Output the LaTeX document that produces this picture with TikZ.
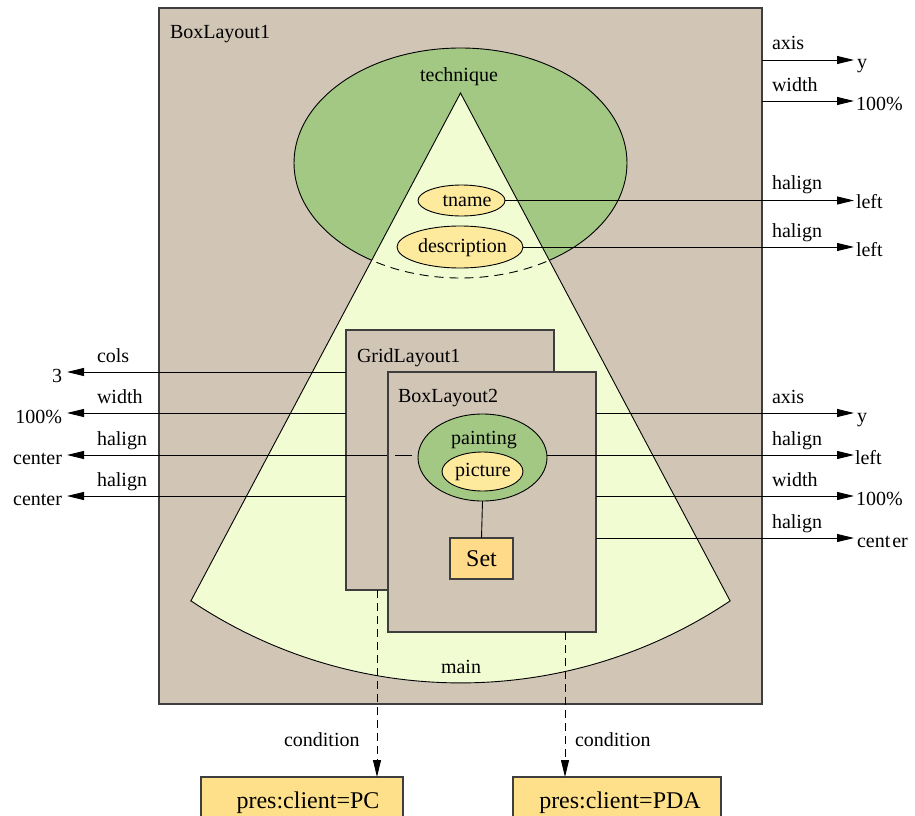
\documentclass[tikz,border=0pt]{standalone}
\usepackage{fontspec}
\setmainfont{Liberation Serif}
\usetikzlibrary{shapes.geometric,arrows.meta}
\definecolor{layoutbg}{RGB}{209,197,182}
\definecolor{partgreen}{RGB}{162,200,131}
\definecolor{conefill}{RGB}{241,252,211}
\definecolor{attrfill}{RGB}{253,234,157}
\definecolor{setfill}{RGB}{255,218,137}
\definecolor{condfill}{RGB}{255,224,138}
\definecolor{edgegray}{RGB}{62,62,62}
\begin{document}
\begin{tikzpicture}[x=1pt,y=-1pt,
  every node/.style={font=\fontsize{20}{24}\selectfont, inner sep=0pt, outer sep=0pt},
  layout/.style={rectangle, draw=edgegray, line width=1.2pt, fill=layoutbg, anchor=north west},
  part/.style={ellipse, draw=black, line width=0.9pt, fill=partgreen},
  attr/.style={ellipse, draw=black, line width=0.9pt, fill=attrfill},
  lbl/.style={anchor=base west},
  ctr/.style={anchor=base},
  lval/.style={anchor=base east},
  prop/.style={line width=0.9pt, -{Triangle[length=17pt,width=8pt]}},
  cond/.style={line width=0.9pt, dash pattern=on 8pt off 5pt, -{Triangle[length=17pt,width=8pt]}},
  condbox/.style={rectangle, draw=edgegray, line width=1.2pt, fill=condfill, anchor=north west}
]
\useasboundingbox (0,0) rectangle (915,816);
\clip (0,0) rectangle (915,816);

% outer box layout
\node[layout, minimum width=603pt, minimum height=696pt] (box1) at (159,8) {};
\node[lbl] (box1-title) at (170,39) {BoxLayout1};

% technique part
\node[part, minimum width=333pt, minimum height=230pt] (technique) at (460.5,163) {};
\node[ctr] (technique-title) at (459,81.7) {technique};

% main part (cone)
\coordinate (apex) at (460.5,93);
\coordinate (coneL) at (190.9,600.9);
\coordinate (coneR) at (730.1,600.9);
\path[draw=black, line width=0.9pt, fill=conefill]
  (coneL) -- (apex) -- (coneR) arc[start angle=56.15, end angle=123.85, radius=483.9] -- cycle;
\begin{scope}
  \clip (coneL) -- (apex) -- (coneR) arc[start angle=56.15, end angle=123.85, radius=483.9] -- cycle;
  \draw[line width=0.9pt, dash pattern=on 9pt off 6pt] (460.5,163) ellipse [x radius=166.5, y radius=115];
\end{scope}
\node[ctr] (main-title) at (461,673) {main};

% attributes of technique
\node[attr, minimum width=87pt, minimum height=31pt] (tname) at (461.5,200.5) {};
\node[ctr] (tname-text) at (467,206.7) {tname};
\node[attr, minimum width=126pt, minimum height=42pt] (descr) at (460,247) {};
\node[ctr] (descr-text) at (462.5,252.7) {description};

% properties of BoxLayout1
\draw[prop] (box1.east |- 0,60) -- (854,60);
\node[lbl] (p1-key) at (772,50) {axis};
\node[lbl] (p1-val) at (857,69) {y};
\draw[prop] (box1.east |- 0,101) -- (854,101);
\node[lbl] (p2-key) at (772,91) {width};
\node[lbl] (p2-val) at (856,110) {100\%};
\draw[prop] (tname.east) -- (tname.east -| 854,0);
\node[lbl] (p3-key) at (772,189) {halign};
\node[lbl] (p3-val) at (856,208) {left};
\draw[prop] (descr.east) -- (descr.east -| 854,0);
\node[lbl] (p4-key) at (772,237) {halign};
\node[lbl] (p4-val) at (856,256) {left};

% grid layout
\node[layout, minimum width=208pt, minimum height=260pt] (grid1) at (346,330) {};
\node[lbl] (grid1-title) at (357,362) {GridLayout1};
\draw[prop] (grid1.west |- 0,372) -- (67,372);
\node[lbl] (g1-key) at (97,362) {cols};
\node[lval] (g1-val) at (62,382) {3};
\draw[prop] (grid1.west |- 0,413) -- (67,413);
\node[lbl] (g2-key) at (97,403) {width};
\node[lval] (g2-val) at (62,423) {100\%};
\draw[prop] (grid1.east |- 0,455) -- (67,455);
\node[lbl] (g3-key) at (97,445) {halign};
\node[lval] (g3-val) at (62,464) {center};
\draw[prop] (grid1.west |- 0,496) -- (67,496);
\node[lbl] (g4-key) at (97,486) {halign};
\node[lval] (g4-val) at (62,505) {center};

% inner box layout
\node[layout, minimum width=208pt, minimum height=260pt] (box2) at (388,372) {};
\node[lbl] (box2-title) at (398,402.7) {BoxLayout2};
\node[part, minimum width=129pt, minimum height=87pt] (painting) at (482.5,457.5) {};
\node[ctr] (painting-text) at (484,444) {painting};
\node[attr, minimum width=81pt, minimum height=39pt] (picture) at (482.5,471.5) {};
\node[ctr] (picture-text) at (483,476) {picture};
\node[rectangle, draw=edgegray, line width=1.2pt, fill=setfill, minimum width=63pt, minimum height=41pt,
      font=\fontsize{24}{28}\selectfont] (set) at (481.5,558.5) {Set};
\draw[line width=0.9pt] (painting.south) -- (set.north);
\draw[line width=0.9pt, dash pattern=on 0pt off 7pt on 17pt off 8pt] (box2.west |- 0,455) -- (painting.west |- 0,455);

% properties of BoxLayout2
\draw[prop] (box2.east |- 0,413) -- (854,413);
\node[lbl] (b1-key) at (772,403) {axis};
\node[lbl] (b1-val) at (857,422) {y};
\draw[prop] (painting.east |- 0,455) -- (854,455);
\node[lbl] (b2-key) at (772,445) {halign};
\node[lbl] (b2-val) at (855,464) {left};
\draw[prop] (box2.east |- 0,496) -- (854,496);
\node[lbl] (b3-key) at (772,486) {width};
\node[lbl] (b3-val) at (856,505) {100\%};
\draw[prop] (box2.east |- 0,538) -- (854,538);
\node[lbl] (b4-key) at (772,528) {halign};
\node[lbl] (b4-val) at (857,547) {cent\kern2pt er};

% conditions
\node[condbox, minimum width=202pt, minimum height=60pt] (pc) at (201,777) {};
\node[ctr, font=\fontsize{24}{28}\selectfont] (pc-text) at (308,808) {pres:client=PC};
\node[condbox, minimum width=208pt, minimum height=60pt] (pda) at (513,777) {};
\node[ctr, font=\fontsize{24}{28}\selectfont] (pda-text) at (620,808) {pres:client=PDA};
\draw[cond] (grid1.south -| 377,0) -- (pc.north -| 377,0);
\node[lbl] (c1-key) at (284,746) {condition};
\draw[cond] (box2.south -| 565,0) -- (pda.north -| 565,0);
\node[lbl] (c2-key) at (575,746) {condition};
\end{tikzpicture}
\end{document}
